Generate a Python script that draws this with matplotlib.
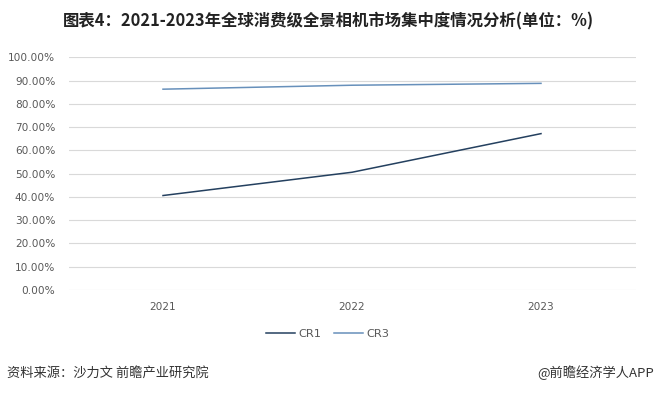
import matplotlib
matplotlib.use("Agg")
import matplotlib.pyplot as plt
from matplotlib.ticker import FuncFormatter

plt.rcParams["font.family"] = ["Noto Sans CJK SC", "DejaVu Sans"]

# data
years = ["2021", "2022", "2023"]
cr1 = [40.6, 50.6, 67.2]
cr3 = [86.3, 88.0, 88.8]
y_ticks = [0, 10, 20, 30, 40, 50, 60, 70, 80, 90, 100]

title = "图表4：2021-2023年全球消费级全景相机市场集中度情况分析(单位：%)"
source = "资料来源：沙力文 前瞻产业研究院"
credit = "@前瞻经济学人APP"

W, H = 657, 396
fig = plt.figure(figsize=(W / 100, H / 100), dpi=100)
fig.patch.set_facecolor("white")

# axes box in pixels: x 68.5..635.5, y 57.3..290
ax = fig.add_axes([68.5 / W, 1 - 290 / H, 567 / W, 232.7 / H])

x = list(range(len(years)))
ax.plot(x, cr1, color="#24405f", linewidth=1.1, label="CR1")
ax.plot(x, cr3, color="#6790bb", linewidth=1.1, label="CR3")

ax.set_xlim(-0.5, len(years) - 0.5)
ax.set_ylim(0, 100)
ax.set_yticks(y_ticks)
ax.yaxis.set_major_formatter(FuncFormatter(lambda v, p: f"{v:.2f}%"))
ax.set_xticks(x)
ax.set_xticklabels(years)

ax.grid(axis="y", color="#d9d9d9", linewidth=0.8)
ax.set_axisbelow(True)
for s in ax.spines.values():
    s.set_visible(False)
ax.tick_params(axis="both", length=0, colors="#595959", labelsize=7.6)
ax.tick_params(axis="y", pad=9.5)
ax.tick_params(axis="x", pad=8.5)
for lab in ax.get_xticklabels() + ax.get_yticklabels():
    lab.set_family(["DejaVu Sans"])

fig.legend(
    loc="center",
    bbox_to_anchor=(328 / W, 1 - 334 / H),
    ncol=2,
    frameon=False,
    prop={"family": ["DejaVu Sans"], "size": 8.2},
    handlelength=2.5,
    handletextpad=0.35,
    columnspacing=1.1,
    labelcolor="#595959",
)

fig.text(328 / W, 1 - 21 / H, title, ha="center", va="center",
         fontsize=11.8, fontweight="bold", color="#222222")
fig.text(7 / W, 1 - 373 / H, source, ha="left", va="center",
         fontsize=9.5, color="#333333")
fig.text(654 / W, 1 - 373 / H, credit, ha="right", va="center",
         fontsize=9.5, color="#333333")

fig.savefig("out.png", dpi=100, facecolor="white")
